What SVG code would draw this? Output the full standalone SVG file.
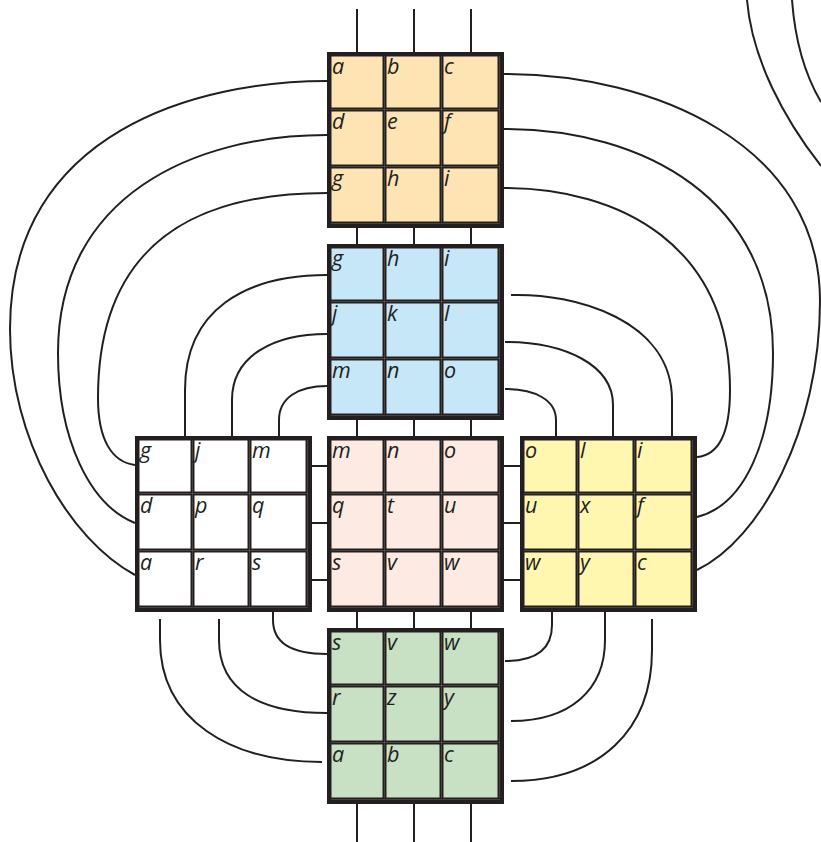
<svg xmlns="http://www.w3.org/2000/svg" width="821" height="842" viewBox="0 0 821 842">
<defs>
<style>
.frame{fill:#231f20}
.grid{fill:none;stroke:#6e6758;stroke-width:0.5}
.or{fill:#fde4b2}
.bl{fill:#c6e7f8}
.wh{fill:#ffffff}
.pk{fill:#fdeae2}
.ye{fill:#fff6b0}
.gr{fill:#c8e0c3}
.lbl{font-family:"Open Sans","Noto Sans","DejaVu Sans",sans-serif;font-style:italic;font-size:21.5px;fill:#231f20}
.wire{fill:none;stroke:#231f20;stroke-width:2}
</style>
</defs>
<rect width="821" height="842" fill="#ffffff"/>

<g id="connectors" class="wire">
<path d="M357,9V52M414,9V52M471,9V52"/>
<path d="M357,228V244M414,228V244M471,228V244"/>
<path d="M357,420V436M414,420V436M471,420V436"/>
<path d="M357,612V628M414,612V628M471,612V628"/>
<path d="M357,804V842M414,804V842M471,804V842"/>
<path d="M312,466H327M312,523H327M312,580H327"/>
<path d="M504,466H520M504,523H520M504,580H520"/>
<path d="M327,81C200,81 10,130 10,329C10,440 70,540 135,575"/>
<path d="M327,135C195,135 58,195 58,353C58,440 90,505 135,523"/>
<path d="M327,193C220,193 98,225 98,398C98,440 112,462 135,465"/>
<path d="M327,275C245,275 185,310 185,390L185,436"/>
<path d="M327,334C275,334 232,355 232,400L232,436"/>
<path d="M327,386C298,386 279,398 279,420L279,436"/>
<path d="M504,74C655,74 820,145 820,301C820,430 760,540 697,570"/>
<path d="M504,129C645,129 773,200 773,353C773,440 745,505 697,517"/>
<path d="M504,188C620,188 730,245 730,390C730,430 720,455 697,457"/>
<path d="M511,295C575,293 672,320 672,400L672,436"/>
<path d="M505,342C565,342 613,365 613,405L613,436"/>
<path d="M505,389C535,389 556,400 556,420L556,436"/>
<path d="M160,619L160,640C160,720 230,762 322,762"/>
<path d="M219,619L219,640C219,690 260,713 327,713"/>
<path d="M273,612L273,620C273,645 295,654 327,654"/>
<path d="M552,612L552,625C552,650 535,661 505,661"/>
<path d="M605,612L605,640C605,690 570,721 511,721"/>
<path d="M652,619L652,650C652,730 600,781 511,781"/>
<path d="M747,0C752,60 785,120 821,166"/>
<path d="M792,0C795,40 805,75 821,102"/>
</g>

<g id="face-top">
<rect class="frame" x="327" y="52" width="177" height="176"/>
<rect class="or" x="331.5" y="56.5" width="51" height="51"/><rect class="or" x="386.5" y="56.5" width="53" height="51"/><rect class="or" x="443.5" y="56.5" width="54" height="51"/>
<rect class="or" x="331.5" y="111.5" width="51" height="53"/><rect class="or" x="386.5" y="111.5" width="53" height="53"/><rect class="or" x="443.5" y="111.5" width="54" height="53"/>
<rect class="or" x="331.5" y="168.5" width="51" height="53"/><rect class="or" x="386.5" y="168.5" width="53" height="53"/><rect class="or" x="443.5" y="168.5" width="54" height="53"/>
<path class="grid" d="M384.5,56V222M441.5,56V222M499.5,56V222M331,109.5H500M331,166.5H500M331,223.5H500"/>
<text class="lbl" x="332" y="74">a</text><text class="lbl" x="387" y="74">b</text><text class="lbl" x="444" y="74">c</text>
<text class="lbl" x="332" y="129">d</text><text class="lbl" x="387" y="129">e</text><text class="lbl" x="444" y="129">f</text>
<text class="lbl" x="332" y="186">g</text><text class="lbl" x="387" y="186">h</text><text class="lbl" x="444" y="186">i</text>
</g>

<g id="face-upper">
<rect class="frame" x="327" y="244" width="177" height="176"/>
<rect class="bl" x="331.5" y="248.5" width="51" height="51"/><rect class="bl" x="386.5" y="248.5" width="53" height="51"/><rect class="bl" x="443.5" y="248.5" width="54" height="51"/>
<rect class="bl" x="331.5" y="303.5" width="51" height="53"/><rect class="bl" x="386.5" y="303.5" width="53" height="53"/><rect class="bl" x="443.5" y="303.5" width="54" height="53"/>
<rect class="bl" x="331.5" y="360.5" width="51" height="53"/><rect class="bl" x="386.5" y="360.5" width="53" height="53"/><rect class="bl" x="443.5" y="360.5" width="54" height="53"/>
<path class="grid" d="M384.5,248V414M441.5,248V414M499.5,248V414M331,301.5H500M331,358.5H500M331,415.5H500"/>
<text class="lbl" x="332" y="266">g</text><text class="lbl" x="387" y="266">h</text><text class="lbl" x="444" y="266">i</text>
<text class="lbl" x="332" y="321">j</text><text class="lbl" x="387" y="321">k</text><text class="lbl" x="444" y="321">l</text>
<text class="lbl" x="332" y="378">m</text><text class="lbl" x="387" y="378">n</text><text class="lbl" x="444" y="378">o</text>
</g>

<g id="face-left">
<rect class="frame" x="135" y="436" width="177" height="176"/>
<rect class="wh" x="139.5" y="440.5" width="51" height="51"/><rect class="wh" x="194.5" y="440.5" width="53" height="51"/><rect class="wh" x="251.5" y="440.5" width="54" height="51"/>
<rect class="wh" x="139.5" y="495.5" width="51" height="53"/><rect class="wh" x="194.5" y="495.5" width="53" height="53"/><rect class="wh" x="251.5" y="495.5" width="54" height="53"/>
<rect class="wh" x="139.5" y="552.5" width="51" height="53"/><rect class="wh" x="194.5" y="552.5" width="53" height="53"/><rect class="wh" x="251.5" y="552.5" width="54" height="53"/>
<path class="grid" d="M192.5,440V606M249.5,440V606M307.5,440V606M139,493.5H308M139,550.5H308M139,607.5H308"/>
<text class="lbl" x="140" y="458">g</text><text class="lbl" x="195" y="458">j</text><text class="lbl" x="252" y="458">m</text>
<text class="lbl" x="140" y="513">d</text><text class="lbl" x="195" y="513">p</text><text class="lbl" x="252" y="513">q</text>
<text class="lbl" x="140" y="570">a</text><text class="lbl" x="195" y="570">r</text><text class="lbl" x="252" y="570">s</text>
</g>

<g id="face-center">
<rect class="frame" x="327" y="436" width="177" height="176"/>
<rect class="pk" x="331.5" y="440.5" width="51" height="51"/><rect class="pk" x="386.5" y="440.5" width="53" height="51"/><rect class="pk" x="443.5" y="440.5" width="54" height="51"/>
<rect class="pk" x="331.5" y="495.5" width="51" height="53"/><rect class="pk" x="386.5" y="495.5" width="53" height="53"/><rect class="pk" x="443.5" y="495.5" width="54" height="53"/>
<rect class="pk" x="331.5" y="552.5" width="51" height="53"/><rect class="pk" x="386.5" y="552.5" width="53" height="53"/><rect class="pk" x="443.5" y="552.5" width="54" height="53"/>
<path class="grid" d="M384.5,440V606M441.5,440V606M499.5,440V606M331,493.5H500M331,550.5H500M331,607.5H500"/>
<text class="lbl" x="332" y="458">m</text><text class="lbl" x="387" y="458">n</text><text class="lbl" x="444" y="458">o</text>
<text class="lbl" x="332" y="513">q</text><text class="lbl" x="387" y="513">t</text><text class="lbl" x="444" y="513">u</text>
<text class="lbl" x="332" y="570">s</text><text class="lbl" x="387" y="570">v</text><text class="lbl" x="444" y="570">w</text>
</g>

<g id="face-right">
<rect class="frame" x="520" y="436" width="177" height="176"/>
<rect class="ye" x="524.5" y="440.5" width="51" height="51"/><rect class="ye" x="579.5" y="440.5" width="53" height="51"/><rect class="ye" x="636.5" y="440.5" width="54" height="51"/>
<rect class="ye" x="524.5" y="495.5" width="51" height="53"/><rect class="ye" x="579.5" y="495.5" width="53" height="53"/><rect class="ye" x="636.5" y="495.5" width="54" height="53"/>
<rect class="ye" x="524.5" y="552.5" width="51" height="53"/><rect class="ye" x="579.5" y="552.5" width="53" height="53"/><rect class="ye" x="636.5" y="552.5" width="54" height="53"/>
<path class="grid" d="M577.5,440V606M634.5,440V606M692.5,440V606M524,493.5H693M524,550.5H693M524,607.5H693"/>
<text class="lbl" x="525" y="458">o</text><text class="lbl" x="580" y="458">l</text><text class="lbl" x="637" y="458">i</text>
<text class="lbl" x="525" y="513">u</text><text class="lbl" x="580" y="513">x</text><text class="lbl" x="637" y="513">f</text>
<text class="lbl" x="525" y="570">w</text><text class="lbl" x="580" y="570">y</text><text class="lbl" x="637" y="570">c</text>
</g>

<g id="face-bottom">
<rect class="frame" x="327" y="628" width="177" height="176"/>
<rect class="gr" x="331.5" y="632.5" width="51" height="51"/><rect class="gr" x="386.5" y="632.5" width="53" height="51"/><rect class="gr" x="443.5" y="632.5" width="54" height="51"/>
<rect class="gr" x="331.5" y="687.5" width="51" height="53"/><rect class="gr" x="386.5" y="687.5" width="53" height="53"/><rect class="gr" x="443.5" y="687.5" width="54" height="53"/>
<rect class="gr" x="331.5" y="744.5" width="51" height="53"/><rect class="gr" x="386.5" y="744.5" width="53" height="53"/><rect class="gr" x="443.5" y="744.5" width="54" height="53"/>
<path class="grid" d="M384.5,632V798M441.5,632V798M499.5,632V798M331,685.5H500M331,742.5H500M331,799.5H500"/>
<text class="lbl" x="332" y="650">s</text><text class="lbl" x="387" y="650">v</text><text class="lbl" x="444" y="650">w</text>
<text class="lbl" x="332" y="705">r</text><text class="lbl" x="387" y="705">z</text><text class="lbl" x="444" y="705">y</text>
<text class="lbl" x="332" y="762">a</text><text class="lbl" x="387" y="762">b</text><text class="lbl" x="444" y="762">c</text>
</g>
</svg>
